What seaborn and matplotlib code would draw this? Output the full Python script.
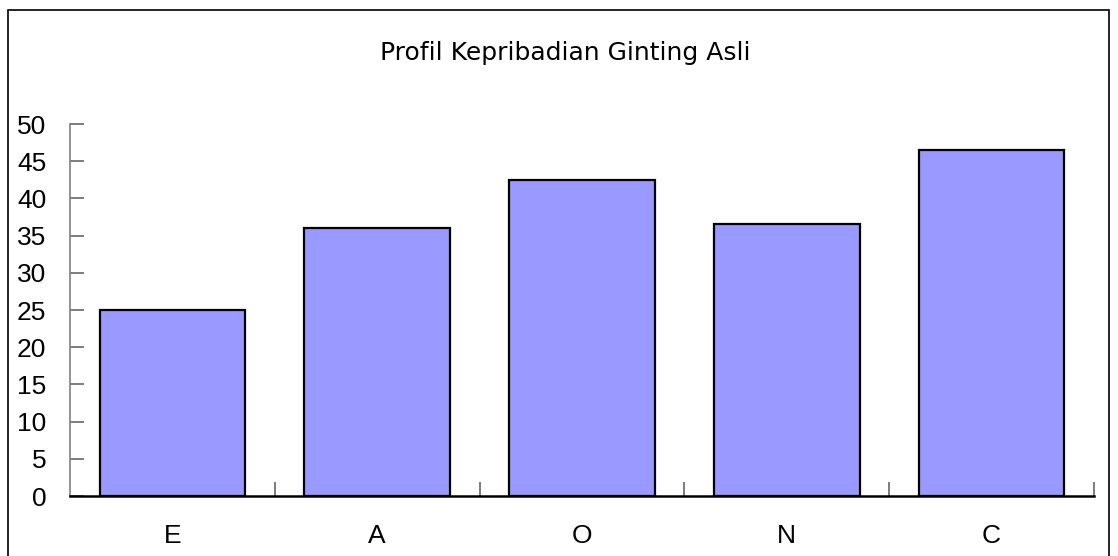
import matplotlib
matplotlib.use("Agg")
import matplotlib.pyplot as plt
import seaborn as sns
from matplotlib.patches import Rectangle
from matplotlib.ticker import FixedLocator, MultipleLocator

# data
traits = ["E", "A", "O", "N", "C"]
scores = [25, 36, 42.5, 36.5, 46.5]
title = "Profil Kepribadian Ginting Asli"

sns.set_style("white")
plt.rcParams["font.family"] = ["Liberation Sans", "DejaVu Sans"]
plt.rcParams["text.color"] = "black"
plt.rcParams["xtick.color"] = "black"
plt.rcParams["ytick.color"] = "black"

fig = plt.figure(figsize=(11.18, 5.56), dpi=100)
ax = fig.add_axes([70 / 1118, 60 / 556, 1024 / 1118, 372 / 556])

sns.barplot(x=traits, y=scores, color="#9999FF", saturation=1,
            edgecolor="black", linewidth=1.6, width=0.71, ax=ax)

ax.set_xlim(-0.5, 4.5)
ax.set_ylim(0, 50)
ax.yaxis.set_major_locator(MultipleLocator(5))

for side in ["top", "right"]:
    ax.spines[side].set_visible(False)
ax.spines["left"].set_color("#808080")
ax.spines["left"].set_linewidth(1.2)
ax.spines["bottom"].set_color("black")
ax.spines["bottom"].set_linewidth(1.8)

ax.tick_params(axis="y", direction="in", length=10, width=1.2, color="#666666",
               labelcolor="black", pad=17, labelsize=19, left=True)
ax.tick_params(axis="x", which="major", length=0, pad=20, labelsize=19,
               labelcolor="black")
ax.xaxis.set_minor_locator(FixedLocator([0.5, 1.5, 2.5, 3.5, 4.5]))
ax.tick_params(axis="x", which="minor", direction="in", length=10, width=1.2,
               color="#666666", bottom=True)
ax.set_xlabel("")
ax.set_ylabel("")

fig.text(0.506, 0.905, title, ha="center", va="center", fontsize=18,
         color="black", family="DejaVu Sans")

# chart border
fig.patches.append(Rectangle((8 / 1118, -0.02), 1101 / 1118, 0.02 + 546 / 556,
                             transform=fig.transFigure, fill=False,
                             edgecolor="black", linewidth=1.2))

fig.savefig("out.png", dpi=100)
